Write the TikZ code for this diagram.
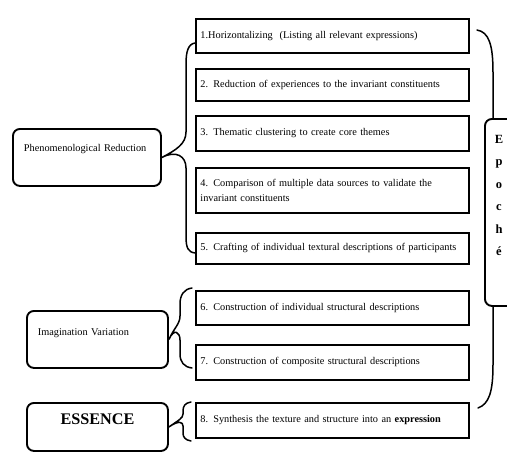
\documentclass[tikz,border=0pt]{standalone}
\usepackage{fontspec}
\setmainfont{Liberation Serif}
\begin{document}
\begin{tikzpicture}[x=1pt,y=-1pt,
  stepbox/.style={draw,line width=1.9pt,anchor=north west,minimum width=273pt,
    text width=264pt,align=left,inner xsep=4.5pt,inner ysep=2pt,
    font=\fontsize{10.3}{15}\selectfont},
  groupbox/.style={draw,line width=1.9pt,rounded corners=7pt,anchor=north west,
    inner xsep=11pt,inner ysep=0pt,align=left,font=\fontsize{10.3}{14}\selectfont},
  bracepath/.style={line width=1.5pt,line cap=round}]
\useasboundingbox (0,0) rectangle (507,451);
\clip (0,0) rectangle (507,451);

% step boxes
\node[stepbox,minimum height=34pt] (s1) at (195,18) {1.Horizontalizing\ \ (Listing all relevant expressions)};
\node[stepbox,minimum height=32pt] (s2) at (195,68) {2. Reduction of experiences to the invariant constituents};
\node[stepbox,minimum height=35pt] (s3) at (195,115) {3. Thematic clustering to create core themes};
\node[stepbox,minimum height=45pt] (s4) at (195,167) {4. Comparison of multiple data sources to validate the\\invariant constituents};
\node[stepbox,minimum height=31pt] (s5) at (195,232) {5. Crafting of individual textural descriptions of participants};
\node[stepbox,minimum height=34pt] (s6) at (195,290) {6. Construction of individual structural descriptions};
\node[stepbox,minimum height=35pt] (s7) at (195,344) {7. Construction of composite structural descriptions};
\node[stepbox,minimum height=35pt] (s8) at (195,402) {8. Synthesis the texture and structure into an \textbf{expression}};

% group boxes
\node[groupbox,text width=126pt,text height=23pt,text depth=34pt] (pr) at (12,128) {Phenomenological Reduction};
\node[groupbox,text width=119pt,text height=25pt,text depth=32pt] (iv) at (26,310) {Imagination Variation};
\node[groupbox,align=center,text width=119pt,text height=22pt,text depth=26pt,
  font=\fontsize{16.2}{18}\selectfont\bfseries] (es) at (26,402) {ESSENCE};

% Epoche box
\node[draw,line width=1.9pt,rounded corners=7pt,anchor=north west,minimum width=40pt,
  minimum height=187pt] (ep) at (484,118) {};
\node[anchor=north,align=center,font=\fontsize{12.5}{22.5}\selectfont\bfseries,inner sep=0pt]
  (eptext) at (499,135) {E\\p\\o\\c\\h\\é};

% braces
\draw[bracepath] (195,43) .. controls (188,44) and (186,52) .. (186,64)
  -- (186,132) .. controls (186,144) and (176,150) .. (pr.east)
  .. controls (176,150) and (186,156) .. (186,168)
  -- (186,236) .. controls (186,248) and (188,252) .. (195,253);
\draw[bracepath] (192,288) .. controls (184,289) and (180,295) .. (180,304)
  -- (180,316) .. controls (180,324) and (174,328) .. (iv.east)
  .. controls (174,328) and (180,332) .. (180,340)
  -- (180,354) .. controls (180,362) and (184,367) .. (192,368);
\draw[bracepath] (191,402) .. controls (185,403) and (183,406) .. (183,411)
  -- (183,414) .. controls (183,418) and (179,420) .. (es.east)
  .. controls (179,420) and (183,422) .. (183,426)
  -- (183,433) .. controls (183,437) and (185,440) .. (191,441);
% right brace around the steps, Epoche in the middle
\draw[bracepath] (477,30) .. controls (489,32) and (493,45) .. (493,72) -- (ep.north -| 493,0);
\draw[bracepath] (ep.south -| 493,0) -- (493,365) .. controls (493,392) and (489,404) .. (478,408);
\end{tikzpicture}
\end{document}
